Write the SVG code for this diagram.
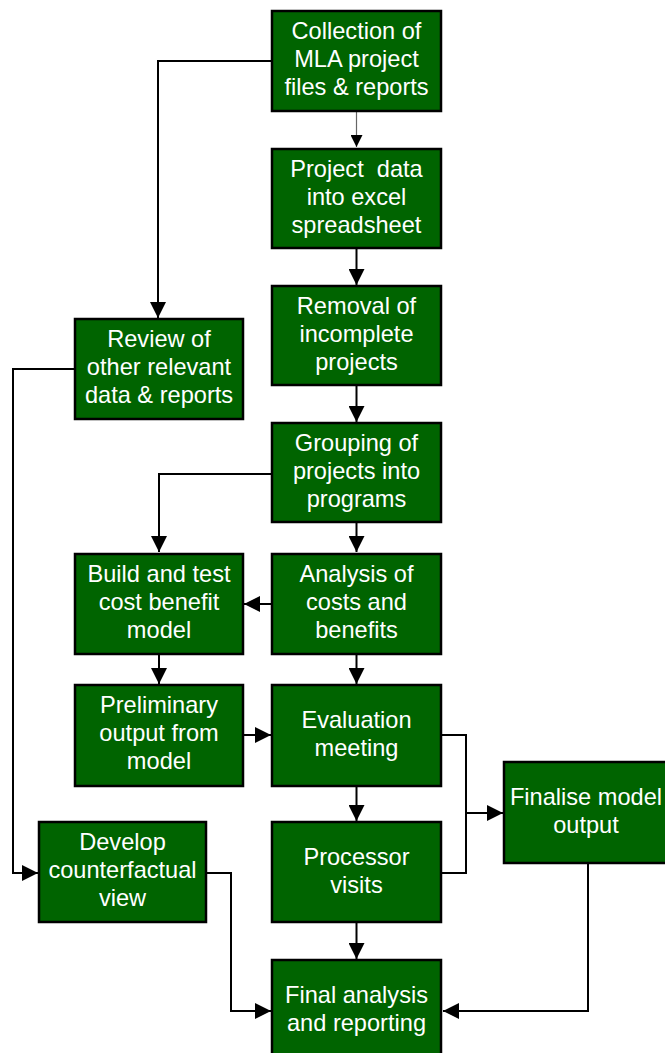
<svg xmlns="http://www.w3.org/2000/svg" width="665" height="1053" viewBox="0 0 665 1053">
  <style>
    .box { fill: #006400; stroke: #000; stroke-width: 2.5; }
    .lbl { fill: #fff; font-family: "Liberation Sans", Arial, sans-serif; font-size: 23.6px; text-anchor: middle; white-space: pre; }
    .wire { fill: none; stroke: #000; stroke-width: 2; }
    .thin { fill: none; stroke: #666; stroke-width: 1.2; }
  </style>
  <defs>
    <marker id="arrow" markerUnits="userSpaceOnUse" markerWidth="16" markerHeight="16" refX="16" refY="8" orient="auto">
      <path d="M0,0 L16,8 L0,16 z" fill="#000"/>
    </marker>
    <marker id="arrowSmall" markerUnits="userSpaceOnUse" markerWidth="12" markerHeight="12" refX="12" refY="6" orient="auto">
      <path d="M0,0 L12,6 L0,12 z" fill="#000"/>
    </marker>
  </defs>
  <rect width="665" height="1053" fill="#fff"/>

  <!-- connectors -->
  <g id="connectors">
    <path class="thin" d="M356.5,111 V147" marker-end="url(#arrowSmall)"/>
    <path class="wire" d="M272,61 H158 V318" marker-end="url(#arrow)"/>
    <path class="wire" d="M356.5,248 V285" marker-end="url(#arrow)"/>
    <path class="wire" d="M356.5,385 V422" marker-end="url(#arrow)"/>
    <path class="wire" d="M75,369 H13 V873 H38" marker-end="url(#arrow)"/>
    <path class="wire" d="M272,474 H159 V552" marker-end="url(#arrow)"/>
    <path class="wire" d="M356.5,522 V552" marker-end="url(#arrow)"/>
    <path class="wire" d="M272,604 H244" marker-end="url(#arrow)"/>
    <path class="wire" d="M159,654 V684" marker-end="url(#arrow)"/>
    <path class="wire" d="M356.5,654 V684" marker-end="url(#arrow)"/>
    <path class="wire" d="M243,735 H271" marker-end="url(#arrow)"/>
    <path class="wire" d="M441,735 H466 V873 H441"/>
    <path class="wire" d="M466,813 H503" marker-end="url(#arrow)"/>
    <path class="wire" d="M356.5,786 V821" marker-end="url(#arrow)"/>
    <path class="wire" d="M206,873 H231 V1011 H271" marker-end="url(#arrow)"/>
    <path class="wire" d="M356.5,922 V959" marker-end="url(#arrow)"/>
    <path class="wire" d="M588,863 V1011 H443" marker-end="url(#arrow)"/>
  </g>

  <!-- nodes -->
  <g id="collection">
    <rect class="box" x="272" y="11" width="169" height="100"/>
    <text class="lbl" x="356.5" y="39">Collection of</text>
    <text class="lbl" x="356.5" y="67">MLA project</text>
    <text class="lbl" x="356.5" y="95">files &amp; reports</text>
  </g>
  <g id="project-data">
    <rect class="box" x="272" y="149" width="169" height="99"/>
    <text class="lbl" x="356.5" y="177">Project  data</text>
    <text class="lbl" x="356.5" y="205">into excel</text>
    <text class="lbl" x="356.5" y="233">spreadsheet</text>
  </g>
  <g id="removal">
    <rect class="box" x="272" y="286" width="169" height="99"/>
    <text class="lbl" x="356.5" y="314">Removal of</text>
    <text class="lbl" x="356.5" y="342">incomplete</text>
    <text class="lbl" x="356.5" y="370">projects</text>
  </g>
  <g id="review">
    <rect class="box" x="75" y="319" width="168" height="100"/>
    <text class="lbl" x="159" y="347">Review of</text>
    <text class="lbl" x="159" y="375">other relevant</text>
    <text class="lbl" x="159" y="403">data &amp; reports</text>
  </g>
  <g id="grouping">
    <rect class="box" x="272" y="423" width="169" height="99"/>
    <text class="lbl" x="356.5" y="451">Grouping of</text>
    <text class="lbl" x="356.5" y="479">projects into</text>
    <text class="lbl" x="356.5" y="507">programs</text>
  </g>
  <g id="build">
    <rect class="box" x="75" y="554" width="168" height="100"/>
    <text class="lbl" x="159" y="582">Build and test</text>
    <text class="lbl" x="159" y="610">cost benefit</text>
    <text class="lbl" x="159" y="638">model</text>
  </g>
  <g id="analysis">
    <rect class="box" x="272" y="554" width="169" height="100"/>
    <text class="lbl" x="356.5" y="582">Analysis of</text>
    <text class="lbl" x="356.5" y="610">costs and</text>
    <text class="lbl" x="356.5" y="638">benefits</text>
  </g>
  <g id="preliminary">
    <rect class="box" x="75" y="685" width="168" height="101"/>
    <text class="lbl" x="159" y="713">Preliminary</text>
    <text class="lbl" x="159" y="741">output from</text>
    <text class="lbl" x="159" y="769">model</text>
  </g>
  <g id="evaluation">
    <rect class="box" x="272" y="685" width="169" height="101"/>
    <text class="lbl" x="356.5" y="728">Evaluation</text>
    <text class="lbl" x="356.5" y="756">meeting</text>
  </g>
  <g id="finalise">
    <rect class="box" x="504" y="762" width="166" height="101"/>
    <text class="lbl" x="586" y="805">Finalise model</text>
    <text class="lbl" x="586" y="833">output</text>
  </g>
  <g id="develop">
    <rect class="box" x="39" y="822" width="167" height="100"/>
    <text class="lbl" x="122.5" y="850">Develop</text>
    <text class="lbl" x="122.5" y="878">counterfactual</text>
    <text class="lbl" x="122.5" y="906">view</text>
  </g>
  <g id="processor">
    <rect class="box" x="272" y="822" width="169" height="100"/>
    <text class="lbl" x="356.5" y="865">Processor</text>
    <text class="lbl" x="356.5" y="893">visits</text>
  </g>
  <g id="final">
    <rect class="box" x="272" y="960" width="169" height="100"/>
    <text class="lbl" x="356.5" y="1003">Final analysis</text>
    <text class="lbl" x="356.5" y="1031">and reporting</text>
  </g>
</svg>
